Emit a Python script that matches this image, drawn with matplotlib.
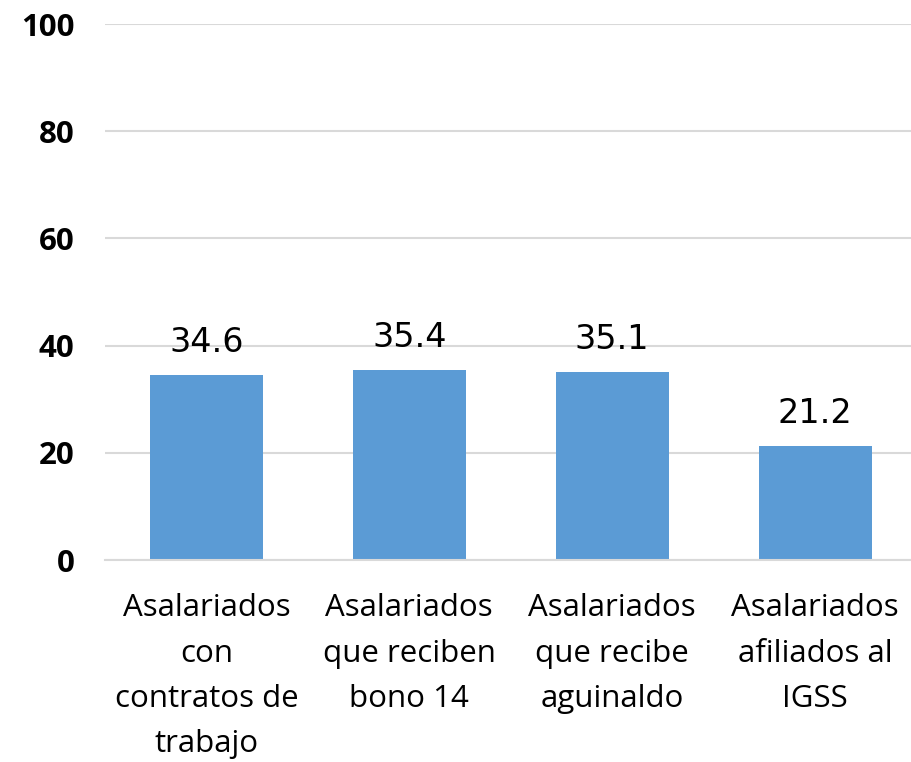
import matplotlib
matplotlib.use("Agg")
import matplotlib.pyplot as plt
import numpy as np

# Data
categories = [
    "Asalariados\ncon\ncontratos de\ntrabajo",
    "Asalariados\nque reciben\nbono 14",
    "Asalariados\nque recibe\naguinaldo",
    "Asalariados\nafiliados al\nIGSS",
]
values = [34.6, 35.4, 35.1, 21.2]
y_ticks = [0, 20, 40, 60, 80, 100]

bar_color = "#5B9BD5"
grid_color = "#D9D9D9"

fig = plt.figure(figsize=(9.12, 7.62), dpi=100)
ax = fig.add_axes([0.115, 0.265, 0.89, 0.7035])

x = np.arange(len(categories))
bars = ax.bar(x, values, width=0.556, color=bar_color, zorder=2)

# Value labels above the bars
for xi, v in zip(x, values):
    ax.text(xi, v + 3, f"{v}", ha="center", va="bottom",
            fontsize=24, family="DejaVu Sans", color="black")

ax.set_xlim(-0.5, len(categories) - 0.5)
ax.set_ylim(0, 100)
ax.set_yticks(y_ticks)
ax.set_yticklabels([str(t) for t in y_ticks], fontsize=22.5,
                   family="Open Sans", fontweight="bold")
ax.set_xticks(x)
ax.set_xticklabels(categories, fontsize=22.5, family="Open Sans",
                   linespacing=1.66)

# Horizontal gridlines only
ax.yaxis.grid(True, color=grid_color, linewidth=1.5, zorder=0)
ax.tick_params(axis="both", length=0)
ax.tick_params(axis="y", pad=22)
ax.tick_params(axis="x", pad=24)
for side in ["top", "right", "left"]:
    ax.spines[side].set_visible(False)
ax.spines["bottom"].set_color(grid_color)
ax.spines["bottom"].set_linewidth(1.5)

fig.savefig("out.png", dpi=100)
